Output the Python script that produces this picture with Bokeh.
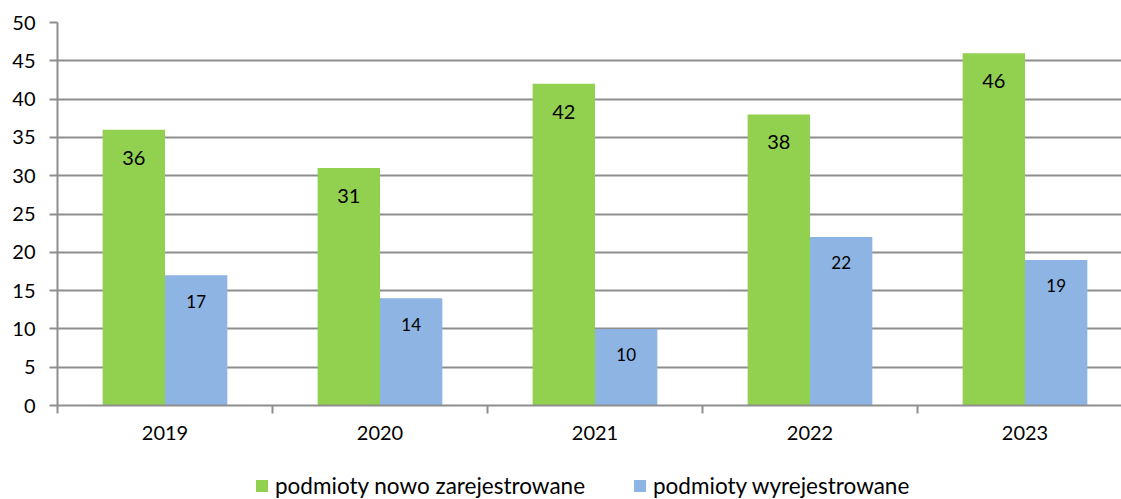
from bokeh.plotting import figure
from bokeh.models import ColumnDataSource, Range1d, FixedTicker, Legend, LegendItem
from bokeh.layouts import column
from bokeh.embed import file_html
from bokeh.resources import INLINE
from bokeh.core.properties import value

years = ["2019", "2020", "2021", "2022", "2023"]
new_reg = [36, 31, 42, 38, 46]
dereg = [17, 14, 10, 22, 19]
series_names = ["podmioty nowo zarejestrowane", "podmioty wyrejestrowane"]
y_ticks = [0, 5, 10, 15, 20, 25, 30, 35, 40, 45, 50]

GREEN = "#92D050"
BLUE = "#8DB4E2"
GRID = "#8e8e8e"
FONT = "Lato"
BW = 0.29

centers = [i + 0.5 for i in range(len(years))]
src_g = ColumnDataSource(dict(x=[c - BW / 2 for c in centers], top=new_reg,
                              lab=[str(v) for v in new_reg]))
src_b = ColumnDataSource(dict(x=[c + BW / 2 for c in centers], top=dereg,
                              lab=[str(v) for v in dereg]))

p = figure(width=1121, height=465, output_backend="svg", toolbar_location=None,
           x_range=Range1d(0, 1064 / 215), y_range=Range1d(0, 50),
           min_border_left=57, min_border_right=0, min_border_top=22, min_border_bottom=60)
p.outline_line_color = None
p.background_fill_color = "white"
p.border_fill_color = "white"

p.vbar(x="x", top="top", width=BW, bottom=0, source=src_g, fill_color=GREEN, line_color=None)
p.vbar(x="x", top="top", width=BW, bottom=0, source=src_b, fill_color=BLUE, line_color=None)

p.text(x="x", y="top", text="lab", source=src_g, text_align="center", text_baseline="middle",
       y_offset=28, text_font=value(FONT), text_font_size="20px", text_color="black")
p.text(x="x", y="top", text="lab", source=src_b, text_align="center", text_baseline="middle",
       y_offset=26, text_font=value(FONT), text_font_size="17px", text_color="black")

# x axis: labels at category centres, tick marks at category boundaries
p.xaxis.ticker = FixedTicker(ticks=centers, minor_ticks=[0, 1, 2, 3, 4, 5])
p.xaxis.major_label_overrides = {c: y for c, y in zip(centers, years)}
p.xaxis.major_tick_out = 0
p.xaxis.major_tick_in = 0
p.xaxis.minor_tick_out = 8
p.xaxis.minor_tick_in = 0
p.xaxis.minor_tick_line_color = GRID
p.xaxis.minor_tick_line_width = 2
p.xaxis.axis_line_color = GRID
p.xaxis.axis_line_width = 2
p.xaxis.major_label_text_font = FONT
p.xaxis.major_label_text_font_size = "20px"
p.xaxis.major_label_text_color = "black"
p.xaxis.major_label_standoff = 12
p.xgrid.grid_line_color = None

# y axis
p.yaxis.ticker = FixedTicker(ticks=y_ticks, minor_ticks=[])
p.yaxis.major_tick_out = 8
p.yaxis.major_tick_in = 0
p.yaxis.major_tick_line_color = GRID
p.yaxis.major_tick_line_width = 2
p.yaxis.axis_line_color = GRID
p.yaxis.axis_line_width = 2
p.yaxis.major_label_text_font = FONT
p.yaxis.major_label_text_font_size = "20px"
p.yaxis.major_label_text_color = "black"
p.yaxis.major_label_standoff = 14
p.ygrid.grid_line_color = GRID
p.ygrid.grid_line_width = 2

# legend strip below the chart
leg = figure(width=1121, height=34, output_backend="svg", toolbar_location=None,
             x_range=Range1d(0, 1), y_range=Range1d(0, 1), x_axis_type=None, y_axis_type=None,
             min_border=0, min_border_left=0, min_border_right=0, min_border_top=0, min_border_bottom=0)
leg.outline_line_color = None
leg.xgrid.grid_line_color = None
leg.ygrid.grid_line_color = None
nan = float("nan")
lg_g = leg.vbar(x="x", top="top", width=0.1, source=ColumnDataSource(dict(x=[nan], top=[nan])),
                fill_color=GREEN, line_color=None)
lg_b = leg.vbar(x="x", top="top", width=0.1, source=ColumnDataSource(dict(x=[nan], top=[nan])),
                fill_color=BLUE, line_color=None)
legend = Legend(items=[LegendItem(label=series_names[0], renderers=[lg_g]),
                       LegendItem(label=series_names[1], renderers=[lg_b])],
                location=(197, 0), orientation="horizontal", padding=0, margin=0, spacing=7,
                border_line_color=None, background_fill_alpha=0,
                glyph_width=15, glyph_height=15, label_standoff=6, label_width=350,
                label_text_font=FONT, label_text_font_size="22.5px", label_text_color="black")
leg.add_layout(legend, "center")

layout = column(p, leg, spacing=0)
open("out.html", "w").write(file_html(layout, INLINE))
